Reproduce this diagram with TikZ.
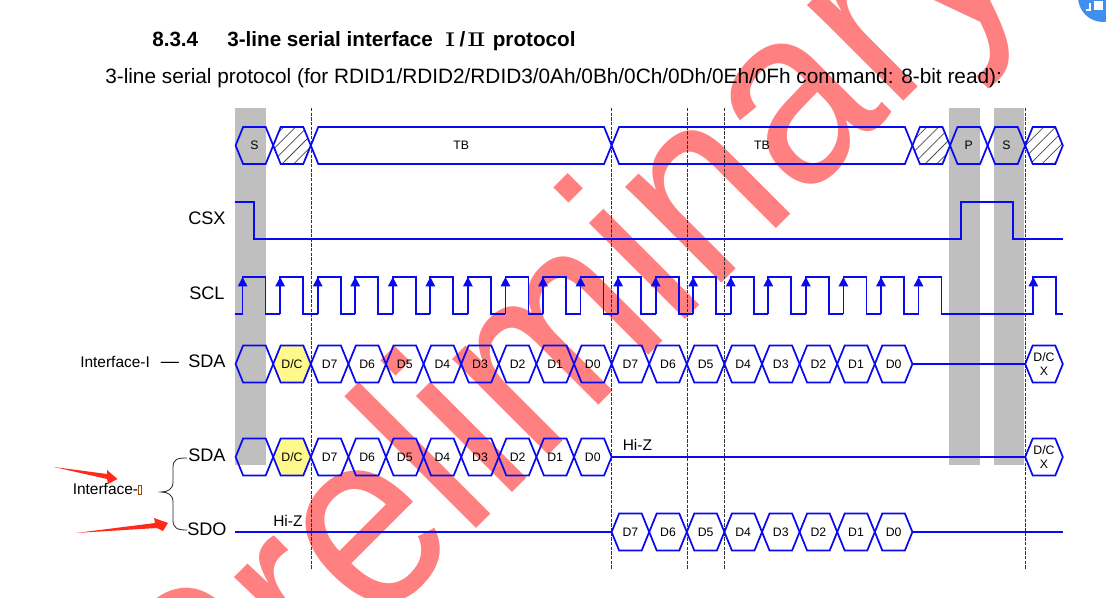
\documentclass[tikz,border=0pt]{standalone}
\usepackage{fontspec}
\usepackage{xcolor}
\usepackage{tikz}
\usetikzlibrary{shapes.symbols,patterns.meta,arrows.meta}
\setmainfont{Liberation Sans}
\newfontfamily\numfont{DejaVu Serif}
\definecolor{wave}{HTML}{0A0AF0}
\definecolor{mark}{HTML}{FF8080}
\definecolor{bar}{HTML}{BFBFBF}
\definecolor{note}{HTML}{FF2A1A}
\definecolor{icon}{HTML}{3F8EF0}
\begin{document}
\begin{tikzpicture}[x=0.75pt, y=-0.75pt,
    bit/.style={signal, signal to=east and west, signal pointer angle=135.8, draw=wave, line width=1.3pt,
        inner sep=0pt, outer sep=0pt, minimum width=28.2pt, minimum height=27.9pt,
        font=\fontsize{9.2}{11}\selectfont, align=center},
    dc/.style={bit, fill=yellow!45},
    hatch/.style={bit, pattern={Lines[angle=45, distance=6.2pt, line width=0.55pt]}, pattern color=black!70},
    tbbit/.style={bit, minimum width=225.6pt},
    pinname/.style={inner sep=0pt, anchor=base west, font=\fontsize{13.6}{16}\selectfont},
    small/.style={inner sep=0pt, anchor=base west, font=\fontsize{11.6}{14}\selectfont},
    trace/.style={draw=wave, line width=1.3pt}]
    \path[use as bounding box, clip] (0,0) rectangle (1106,598);
    \fill[white] (0,0) rectangle (1106,598);

    \node[inner sep=0pt, anchor=base west, rotate=45, text=mark, font=\fontsize{192.75}{193}\selectfont, name=watermark] at (210.5,794) {\scalebox{0.9}[1]{Preliminary}};

    \fill[icon] (1103,-3) circle (25);
    \fill[white] (1094,1) rectangle (1103,10);
    \draw[white, line width=1pt] (1090,3) -- (1090,10) -- (1086,10);

    \fill[bar] (235,108) rectangle (266,465);
    \fill[bar] (949,108) rectangle (980,465);
    \fill[bar] (994,108) rectangle (1024,465);

    \foreach \x in {311,611,687,724,1025}
        \draw[black!80, line width=0.5pt, dash pattern=on 2.5pt off 1pt] (\x,108) -- (\x,570);

    \node[inner sep=0pt, anchor=base west, font=\bfseries\fontsize{15.5}{18}\selectfont, name=secnum] at (152,46.5) {8.3.4};
    \node[inner sep=0pt, anchor=base west, font=\bfseries\fontsize{15.5}{18}\selectfont, name=title] at (227,46.5) {3-line serial interface\hspace{4.5pt} \scalebox{1.5}[1]{\numfont\mdseries\fontsize{14}{18}\selectfont Ⅰ}\hspace{3pt}/\hspace{1pt}\scalebox{1.5}[1]{\numfont\mdseries\fontsize{14}{18}\selectfont Ⅱ}\hspace{1pt} protocol};
    \node[inner sep=0pt, anchor=base west, font=\fontsize{15.6}{18}\selectfont, name=subtitle] at (105,83.5) {3-line serial protocol (for RDID1/RDID2/RDID3/0Ah/0Bh/0Ch/0Dh/0Eh/0Fh command: 8-bit read):};

    \node[bit, name=start] at (254.4,145.5) {S};
    \node[hatch, name=skip] at (292,145.5) {};
    \node[tbbit, name=tba] at (461.2,145.5) {TB};
    \node[tbbit, name=tbb] at (762,145.5) {TB};
    \node[hatch, name=skipb] at (931.2,145.5) {};
    \node[bit, name=stop] at (968.8,145.5) {P};
    \node[bit, name=startb] at (1006.4,145.5) {S};
    \node[hatch, name=skipc] at (1044,145.5) {};

    \node[pinname, name=csx] at (188,224.5) {CSX};
    \node[pinname, name=scl] at (189,300) {SCL};
    \node[small, name=ifone] at (80,368) {Interface-I};
    \node[pinname, name=dash] at (160.5,368) {—};
    \node[pinname, name=sdaone] at (188,367.7) {SDA};
    \node[pinname, name=sdatwo] at (188,461) {SDA};
    \node[pinname, name=sdo] at (187,535.7) {SDO};
    \node[small, name=iftwo] at (72.5,494) {Interface-{\color{orange!60!black}\fboxrule=0.3pt\fboxsep=0pt\fbox{\hspace{2pt}\rule{0pt}{6.5pt}}}};
    \node[small, name=hizb] at (622.5,450) {Hi-Z};
    \node[small, name=hiza] at (273,526) {Hi-Z};

    \draw[trace] (235,202) -- (254,202) -- (254,239) -- (961,239) -- (961,202) -- (1013,202) -- (1013,239) -- (1063,239);

    \draw[trace] (235,314) -- (243,314);
    \foreach \n in {0,...,18}
        \draw[trace] ({242.6+37.55*\n},314) -- ({242.6+37.55*\n},277) -- ({265.6+37.55*\n},277) -- ({265.6+37.55*\n},314) -- ({280.15+37.55*\n},314);
    \draw[trace] (941,314) -- (1033.3,314) -- (1033.3,277) -- (1055.7,277) -- (1055.7,314) -- (1063,314);
    \foreach \n in {0,...,18}
        \draw[trace, -{Triangle[length=7pt, width=7pt]}] ({242.6+37.55*\n},300) -- ({242.6+37.55*\n},277);
    \draw[trace, -{Triangle[length=7pt, width=7pt]}] (1033.3,300) -- (1033.3,277);

    \node[bit, name=aa0] at (254.4,364) {};
    \node[dc, name=aa1] at (292,364) {D/C};
    \foreach \l [count=\n from 2] in {D7,D6,D5,D4,D3,D2,D1,D0,D7,D6,D5,D4,D3,D2,D1,D0}
        \node[bit, name=aa\n] at ({254.4+37.6*\n},364) {\l};
    \node[bit, name=aax] at (1044,364) {D/C\\X};
    \path[trace] (aa17.east) edge (aax.west);

    \node[bit, name=bb0] at (254.4,457) {};
    \node[dc, name=bb1] at (292,457) {D/C};
    \foreach \l [count=\n from 2] in {D7,D6,D5,D4,D3,D2,D1,D0}
        \node[bit, name=bb\n] at ({254.4+37.6*\n},457) {\l};
    \node[bit, name=bbx] at (1044,457) {D/C\\X};
    \path[trace] (bb9.east) edge (bbx.west);

    \coordinate (sdostart) at (235,532);
    \coordinate (sdoend) at (1063,532);
    \foreach \l [count=\n from 10] in {D7,D6,D5,D4,D3,D2,D1,D0}
        \node[bit, name=cc\n] at ({254.4+37.6*\n},532) {\l};
    \path[trace] (sdostart) edge (cc10.west)
        (cc17.east) edge (sdoend);

    \coordinate (bracetop) at (187,458);
    \coordinate (bracetip) at (161,492);
    \coordinate (bracebot) at (187,530);
    \draw[black!85, line width=0.6pt] (bracetop) .. controls (177,458) and (173,459) .. (173,468) -- (173,482)
        .. controls (173,489) and (168,492) .. (bracetip)
        .. controls (168,492) and (173,495) .. (173,502) -- (173,520)
        .. controls (173,528) and (177,530) .. (bracebot);

    \fill[note] (54,467) -- (107,474) -- (107,470) -- (117.5,479) -- (108,484) -- (107,479) -- cycle;
    \fill[note] (76,533) -- (155,523) -- (154,518) -- (168,523) -- (163,531) -- (157,528) -- cycle;
\end{tikzpicture}
\end{document}
